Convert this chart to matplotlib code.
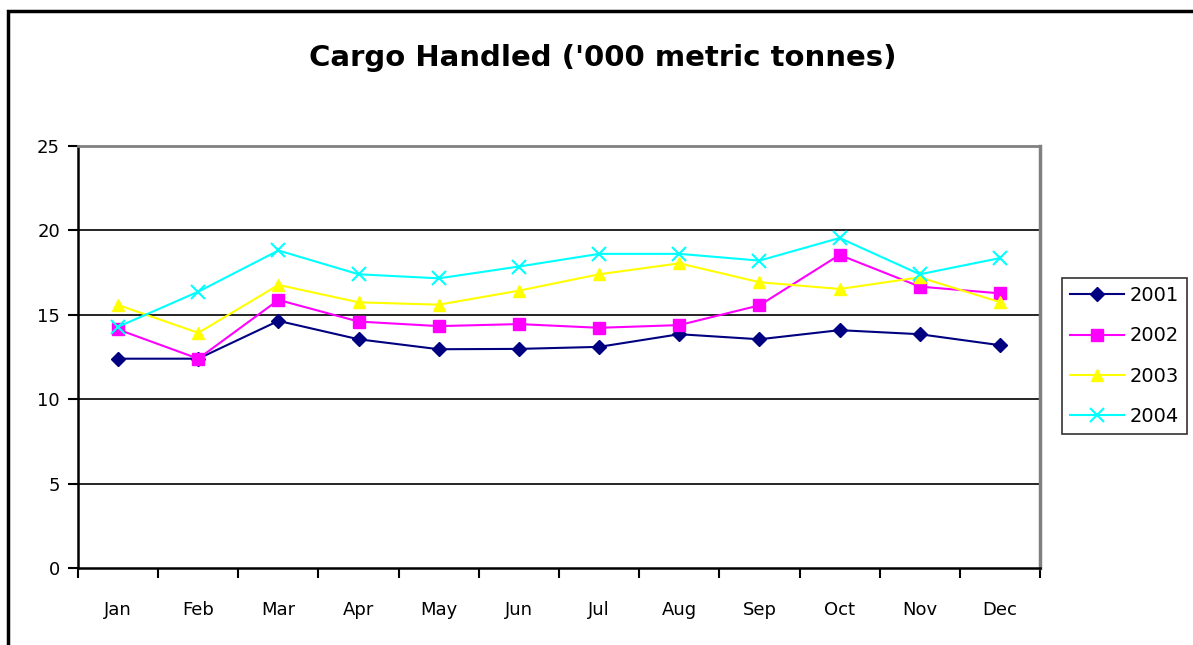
import matplotlib.pyplot as plt
from matplotlib.patches import Rectangle

# Monthly cargo handled, '000 metric tonnes
months = ["Jan", "Feb", "Mar", "Apr", "May", "Jun",
          "Jul", "Aug", "Sep", "Oct", "Nov", "Dec"]
y2001 = [12.4, 12.4, 14.64, 13.55, 12.96, 12.98, 13.1, 13.85, 13.55, 14.09, 13.85, 13.2]
y2002 = [14.13, 12.4, 15.88, 14.6, 14.33, 14.45, 14.23, 14.39, 15.56, 18.55, 16.67, 16.27]
y2003 = [15.58, 13.93, 16.77, 15.74, 15.6, 16.43, 17.4, 18.05, 16.93, 16.53, 17.22, 15.75]
y2004 = [14.29, 16.37, 18.81, 17.4, 17.16, 17.86, 18.61, 18.61, 18.21, 19.55, 17.4, 18.36]

fig = plt.figure(figsize=(11.93, 6.45), dpi=100)
ax = fig.add_axes([78 / 1193, 1 - 568 / 645, (1040 - 78) / 1193, (568 - 146) / 645])

# outer chart border (cut off at right and bottom)
fig.patches.append(Rectangle((8 / 1193, -0.1), 1.5, 1 - 11 / 645 + 0.1,
                             transform=fig.transFigure, fill=False,
                             edgecolor="black", linewidth=2.5))

x = range(len(months))
ax.plot(x, y2001, color="#000080", marker="D", markersize=7.5, lw=1.5, label="2001")
ax.plot(x, y2002, color="#FF00FF", marker="s", markersize=8, lw=1.5, label="2002")
ax.plot(x, y2003, color="#FFFF00", marker="^", markersize=9, lw=1.5, label="2003")
ax.plot(x, y2004, color="#00FFFF", marker="x", markersize=10, mew=1.5, lw=1.5, label="2004")

ax.set_xlim(-0.5, 11.5)
ax.set_ylim(0, 25)
ax.set_yticks([0, 5, 10, 15, 20, 25])
ax.set_xticks(list(x))
ax.set_xticklabels(months)
ax.set_xticks([i - 0.5 for i in range(13)], minor=True)
ax.tick_params(axis="x", which="major", length=0, pad=24, labelsize=13)
ax.tick_params(axis="x", which="minor", length=7, width=1.5, direction="out")
ax.tick_params(axis="y", length=7, width=1.5, direction="out", labelsize=13, pad=6)

for v in [5, 10, 15, 20]:
    ax.axhline(v, color="black", lw=1.2, zorder=0)

ax.spines["left"].set_linewidth(1.8)
ax.spines["bottom"].set_linewidth(1.8)
ax.spines["top"].set_color("#808080")
ax.spines["right"].set_color("#808080")
ax.spines["top"].set_linewidth(2)
ax.spines["right"].set_linewidth(2.5)

fig.text(603 / 1193, 1 - 58 / 645, "Cargo Handled ('000 metric tonnes)",
         ha="center", va="center", fontsize=21, fontweight="bold")

leg = ax.legend(loc="center left", bbox_to_anchor=(1062 / 1193, 1 - 356 / 645),
                bbox_transform=fig.transFigure, fontsize=14, frameon=True,
                fancybox=False, edgecolor="black", handlelength=2.8,
                borderpad=0.4, labelspacing=1.1, handletextpad=0.3,
                borderaxespad=0)
leg.get_frame().set_linewidth(1.2)

fig.savefig("out.png", dpi=100)
